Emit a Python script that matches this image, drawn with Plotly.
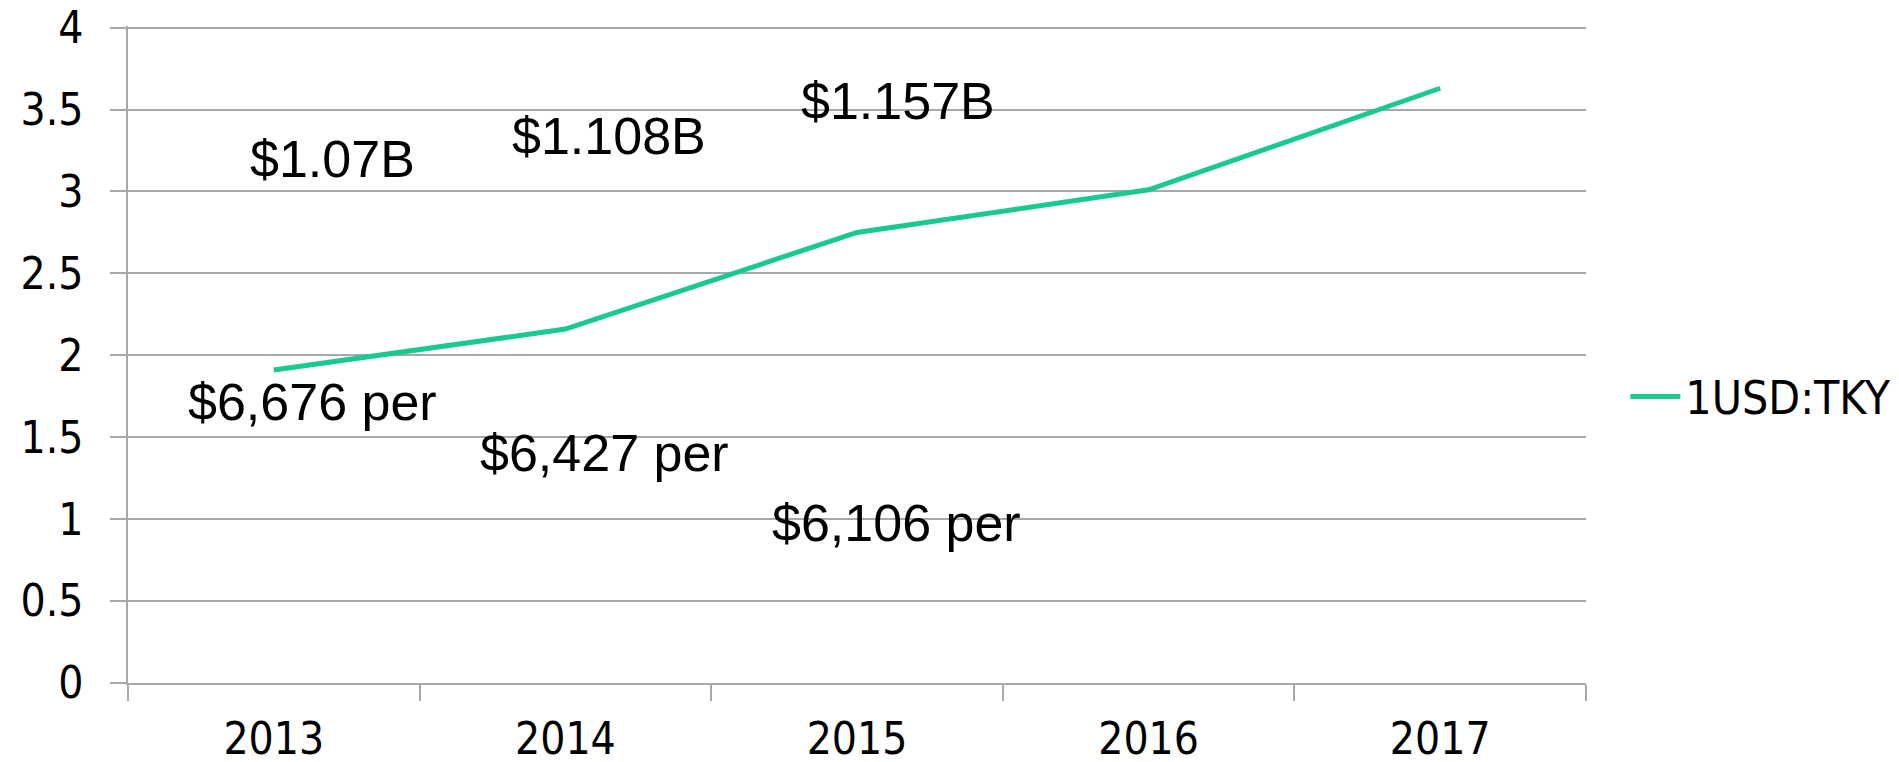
import plotly.graph_objects as go

years = ["2013", "2014", "2015", "2016", "2017"]
usd_tky = [1.91, 2.16, 2.75, 3.01, 3.63]
series_name = "1USD:TKY"

note_texts = ["$1.07B", "$1.108B", "$1.157B", "$6,676 per", "$6,427 per", "$6,106 per"]
note_x = [0.20, 1.15, 2.14, 0.134, 1.134, 2.136]
note_y = [3.20, 3.337, 3.551, 1.714, 1.402, 0.975]

y_ticks = [0, 0.5, 1, 1.5, 2, 2.5, 3, 3.5, 4]
y_tick_text = ["0", "0.5", "1", "1.5", "2", "2.5", "3", "3.5", "4"]

NARROW = "DejaVu Sans Condensed, DejaVu Sans, sans-serif"
WIDE = "Liberation Sans, Arial, sans-serif"
GRID = "#a8a8a8"

fig = go.Figure()
fig.add_trace(go.Scatter(
    x=years, y=usd_tky, mode="lines", name=series_name,
    line=dict(color="#19c991", width=5),
))

for t, xx, yy in zip(note_texts, note_x, note_y):
    fig.add_annotation(x=xx, y=yy, xref="x", yref="y", text=t, showarrow=False,
                       font=dict(family=WIDE, size=52, color="black"),
                       xanchor="center", yanchor="middle")

fig.update_layout(
    template="none",
    width=1899, height=762,
    margin=dict(l=128, r=313, t=25.7, b=79.3, autoexpand=False),
    paper_bgcolor="white", plot_bgcolor="white",
    showlegend=True,
    legend=dict(x=1.027, y=0.436, xanchor="left", yanchor="middle",
                font=dict(family=NARROW, size=46, color="black"),
                bgcolor="rgba(0,0,0,0)", itemwidth=50, borderwidth=0),
)
fig.update_xaxes(
    type="category", showgrid=False, showline=True, linecolor=GRID, linewidth=1.5,
    ticks="outside", tickson="boundaries", ticklen=16, tickcolor=GRID, tickwidth=1.5,
    tickfont=dict(family=NARROW, size=44, color="black"),
    range=[-0.5, 4.5], zeroline=False, automargin=False, ticklabelstandoff=16,
)
fig.update_yaxes(
    range=[0, 4.01], tickvals=y_ticks, ticktext=y_tick_text,
    showgrid=True, gridcolor=GRID, gridwidth=1.5,
    showline=True, linecolor=GRID, linewidth=1.5,
    ticks="outside", ticklen=16, tickcolor=GRID, tickwidth=1.5,
    tickfont=dict(family=NARROW, size=44, color="black"),
    zeroline=False, automargin=False, ticklabeloverflow="allow", ticklabelstandoff=18,
)

fig.write_html(
    "out.html",
    config={"displayModeBar": False},
    post_script="document.body.style.margin='0';document.body.style.overflow='hidden';",
)
